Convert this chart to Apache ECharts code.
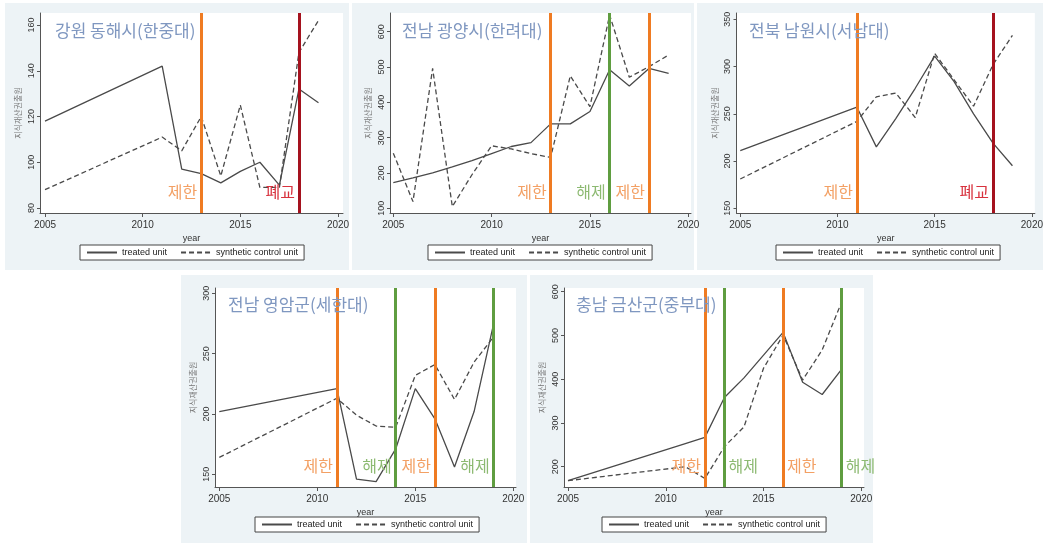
<!DOCTYPE html>
<html><head><meta charset="utf-8">
<script src="https://cdn.jsdelivr.net/npm/echarts@6/dist/echarts.min.js"></script>
<style>html,body{margin:0;padding:0;background:#fff}#c{width:1046px;height:543px}</style>
</head><body><div id="c"></div>
<script>
// ---------------- data ----------------
const titles = ['강원 동해시(한중대)', '전남 광양시(한려대)', '전북 남원시(서남대)', '전남 영암군(세한대)', '충남 금산군(중부대)'];
const seriesNames = ['treated unit', 'synthetic control unit'];
const yAxisTitle = '지식재산권출원';
const xAxisTitle = 'year';
const xTicks = [2005, 2010, 2015, 2020];

const years1 = [2005, 2011, 2012, 2013, 2014, 2015, 2016, 2017, 2018, 2019];
const treated1 = [118, 142, 97, 95, 91, 96, 100, 90, 132, 126];
const synth1 = [88, 111, 105, 120, 94, 125, 89, 89, 148, 162];
const yTicks1 = [80, 100, 120, 140, 160];
const eventYears1 = [2013, 2018];
const eventKinds1 = ['제한', '폐교'];

const years2 = [2005, 2006, 2007, 2008, 2009, 2010, 2011, 2012, 2013, 2014, 2015, 2016, 2017, 2018, 2019];
const treated2 = [173, 186, 200, 217, 235, 255, 275, 286, 339, 339, 374, 492, 446, 496, 482];
const synth2 = [256, 119, 496, 105, 195, 277, 268, 255, 244, 475, 388, 647, 471, 501, 534];
const yTicks2 = [100, 200, 300, 400, 500, 600];
const eventYears2 = [2013, 2016, 2018];
const eventKinds2 = ['제한', '해제', '제한'];

const years3 = [2005, 2011, 2012, 2013, 2014, 2015, 2016, 2017, 2018, 2019];
const treated3 = [211, 257, 215, 245, 277, 311, 284, 250, 219, 195];
const synth3 = [181, 242, 268, 272, 246, 314, 286, 258, 302, 333];
const yTicks3 = [150, 200, 250, 300, 350];
const eventYears3 = [2011, 2018];
const eventKinds3 = ['제한', '폐교'];

const years4 = [2005, 2011, 2012, 2013, 2014, 2015, 2016, 2017, 2018, 2019];
const treated4 = [202, 221, 146, 144, 171, 221, 196, 156, 202, 275];
const synth4 = [164, 213, 199, 190, 189, 232, 241, 212, 243, 264];
const yTicks4 = [150, 200, 250, 300];
const eventYears4 = [2011, 2014, 2016, 2019];
const eventKinds4 = ['제한', '해제', '제한', '해제'];

const years5 = [2005, 2011, 2012, 2013, 2014, 2015, 2016, 2017, 2018, 2019];
const treated5 = [168, 253, 267, 358, 403, 455, 507, 393, 365, 423];
const synth5 = [168, 200, 173, 246, 291, 425, 501, 398, 467, 577];
const yTicks5 = [200, 300, 400, 500, 600];
const eventYears5 = [2012, 2013, 2016, 2019];
const eventKinds5 = ['제한', '해제', '제한', '해제'];

// ---------------- layout & style ----------------
const layout = [
  {bg:[5,3,349,270], g:{l:40,r:343,t:13,b:213}, xp:[45,338], yp:[[80,208],[160,25]], legend:[80,245], title:[55,22], side:['left','left']},
  {bg:[352,3,694,270], g:{l:390,r:691,t:13,b:213}, xp:[393.3,688.3], yp:[[100,208.3],[600,31.7]], legend:[428,245], title:[402,22], side:['left','left','left']},
  {bg:[697,3,1043,270], g:{l:736.5,r:1038,t:13,b:213}, xp:[740.3,1035], yp:[[150,208.3],[350,19.3]], legend:[776,245], title:[749,22], side:['left','left']},
  {bg:[181,275,527,543], g:{l:215,r:516,t:288,b:487}, xp:[219.3,513.3], yp:[[150,474.3],[300,293.3]], legend:[255,517], title:[228,296], side:['left','left','left','left']},
  {bg:[530,275,873,543], g:{l:564,r:864,t:288,b:487}, xp:[568,861.3], yp:[[200,466.7],[600,291.7]], legend:[602,517], title:[576,296], side:['left','right','right','right']}
];
const kindStyle = {
  '제한': {line:'#ef7b22', text:'#f3a064'},
  '해제': {line:'#5f9d40', text:'#8dba72'},
  '폐교': {line:'#a5121e', text:'#d8323e'}
};
const panelBg = '#edf3f6';
const lineColor = '#4a4a4a';
const korFont = '"Noto Sans CJK KR", "Noto Sans", sans-serif';
const latFont = '"Liberation Sans", Arial, sans-serif';

const panels = [
  {years:years1, tr:treated1, sy:synth1, yt:yTicks1, ev:eventYears1, ek:eventKinds1},
  {years:years2, tr:treated2, sy:synth2, yt:yTicks2, ev:eventYears2, ek:eventKinds2},
  {years:years3, tr:treated3, sy:synth3, yt:yTicks3, ev:eventYears3, ek:eventKinds3},
  {years:years4, tr:treated4, sy:synth4, yt:yTicks4, ev:eventYears4, ek:eventKinds4},
  {years:years5, tr:treated5, sy:synth5, yt:yTicks5, ev:eventYears5, ek:eventKinds5}
];

function lin(p, p0, v0, p1, v1) { return v0 + (p - p0) * (v1 - v0) / (p1 - p0); }

const W = 1046, H = 543;
const grids = [], xAxes = [], yAxes = [], series = [], legends = [], titleArr = [], bgGraphics = [];

panels.forEach((P, i) => {
  const L = layout[i], g = L.g;
  grids.push({left:g.l, top:g.t, width:g.r-g.l, height:g.b-g.t, show:true, backgroundColor:'#fff', borderWidth:0, containLabel:false});
  const xmin = lin(g.l, L.xp[0], 2005, L.xp[1], 2020), xmax = lin(g.r, L.xp[0], 2005, L.xp[1], 2020);
  const [[v0,p0],[v1,p1]] = L.yp;
  const ymin = lin(g.b, p0, v0, p1, v1), ymax = lin(g.t, p0, v0, p1, v1);
  xAxes.push({
    type:'value', gridIndex:i, min:xmin, max:xmax,
    name:xAxisTitle, nameLocation:'middle', nameGap:21,
    nameTextStyle:{fontSize:9, color:'#333', fontFamily:latFont},
    axisLine:{show:true, onZero:false, lineStyle:{color:'#555', width:1}},
    axisTick:{show:true, length:4, customValues:xTicks, lineStyle:{color:'#555'}},
    axisLabel:{customValues:xTicks, fontSize:10, color:'#333', margin:7, fontFamily:latFont, formatter:v=>String(v)},
    splitLine:{show:false}
  });
  yAxes.push({
    type:'value', gridIndex:i, min:ymin, max:ymax,
    name:yAxisTitle, nameLocation:'middle', nameGap:18, nameRotate:90,
    nameTextStyle:{fontSize:8, color:'#777', fontFamily:korFont},
    axisLine:{show:true, onZero:false, lineStyle:{color:'#555', width:1}},
    axisTick:{show:true, length:3, customValues:P.yt, lineStyle:{color:'#555'}},
    axisLabel:{customValues:P.yt, rotate:90, fontSize:9, color:'#333', margin:4, fontFamily:latFont, formatter:v=>String(v)},
    splitLine:{show:false}
  });
  series.push({
    name:seriesNames[0], type:'line', xAxisIndex:i, yAxisIndex:i, symbol:'none', silent:true,
    data:P.years.map((y,k)=>[y,P.tr[k]]),
    lineStyle:{color:lineColor, width:1.3, type:'solid'}, itemStyle:{color:lineColor},
    markLine:{
      silent:true, symbol:['none','none'], label:{show:false}, animation:false,
      data:P.ev.map((y,k)=>({xAxis:y, lineStyle:{color:kindStyle[P.ek[k]].line, width:3, type:'solid'}}))
    },
    z:3
  });
  series.push({
    name:seriesNames[1], type:'line', xAxisIndex:i, yAxisIndex:i, symbol:'none', silent:true,
    data:P.years.map((y,k)=>[y,P.sy[k]]),
    lineStyle:{color:lineColor, width:1.3, type:[5,3]}, itemStyle:{color:lineColor},
    z:3
  });
  legends.push({
    data:seriesNames, left:L.legend[0], top:L.legend[1], orient:'horizontal',
    itemWidth:30, itemHeight:8, itemGap:13, padding:[3,6],
    itemStyle:{opacity:0, borderWidth:0},
    borderColor:'#444', borderWidth:1, backgroundColor:'#fff',
    textStyle:{fontSize:9, color:'#222', fontFamily:latFont}, selectedMode:false
  });
  titleArr.push({
    text:titles[i], left:L.title[0], top:L.title[1], padding:0,
    textStyle:{fontSize:17, fontWeight:'normal', color:'#7f97c0', fontFamily:korFont}
  });
  bgGraphics.push({type:'rect', id:'bg'+i, z:-10, silent:true,
    shape:{x:L.bg[0], y:L.bg[1], width:L.bg[2]-L.bg[0], height:L.bg[3]-L.bg[1]},
    style:{fill:panelBg}});
});

const chart = echarts.init(document.getElementById('c'), null, {renderer:'canvas', width:W, height:H});
chart.setOption({
  animation:false,
  backgroundColor:'#fff',
  title:titleArr,
  legend:legends,
  grid:grids, xAxis:xAxes, yAxis:yAxes, series:series,
  graphic:{elements:bgGraphics}
});

// event labels positioned via the chart's own axes
const labelGraphics = [];
panels.forEach((P, i) => {
  const L = layout[i];
  P.ev.forEach((y, k) => {
    const px = chart.convertToPixel({xAxisIndex:i}, y);
    const side = L.side[k];
    labelGraphics.push({
      type:'text', id:'lab'+i+'_'+k, z:50, silent:true,
      x: side === 'left' ? px - 4 : px + 4, y: L.g.b - 21,
      style:{text:P.ek[k], fill:kindStyle[P.ek[k]].text, font:'16px ' + korFont,
        align: side === 'left' ? 'right' : 'left', verticalAlign:'middle'}
    });
  });
});
chart.setOption({graphic:{elements:bgGraphics.concat(labelGraphics)}});
</script></body></html>
